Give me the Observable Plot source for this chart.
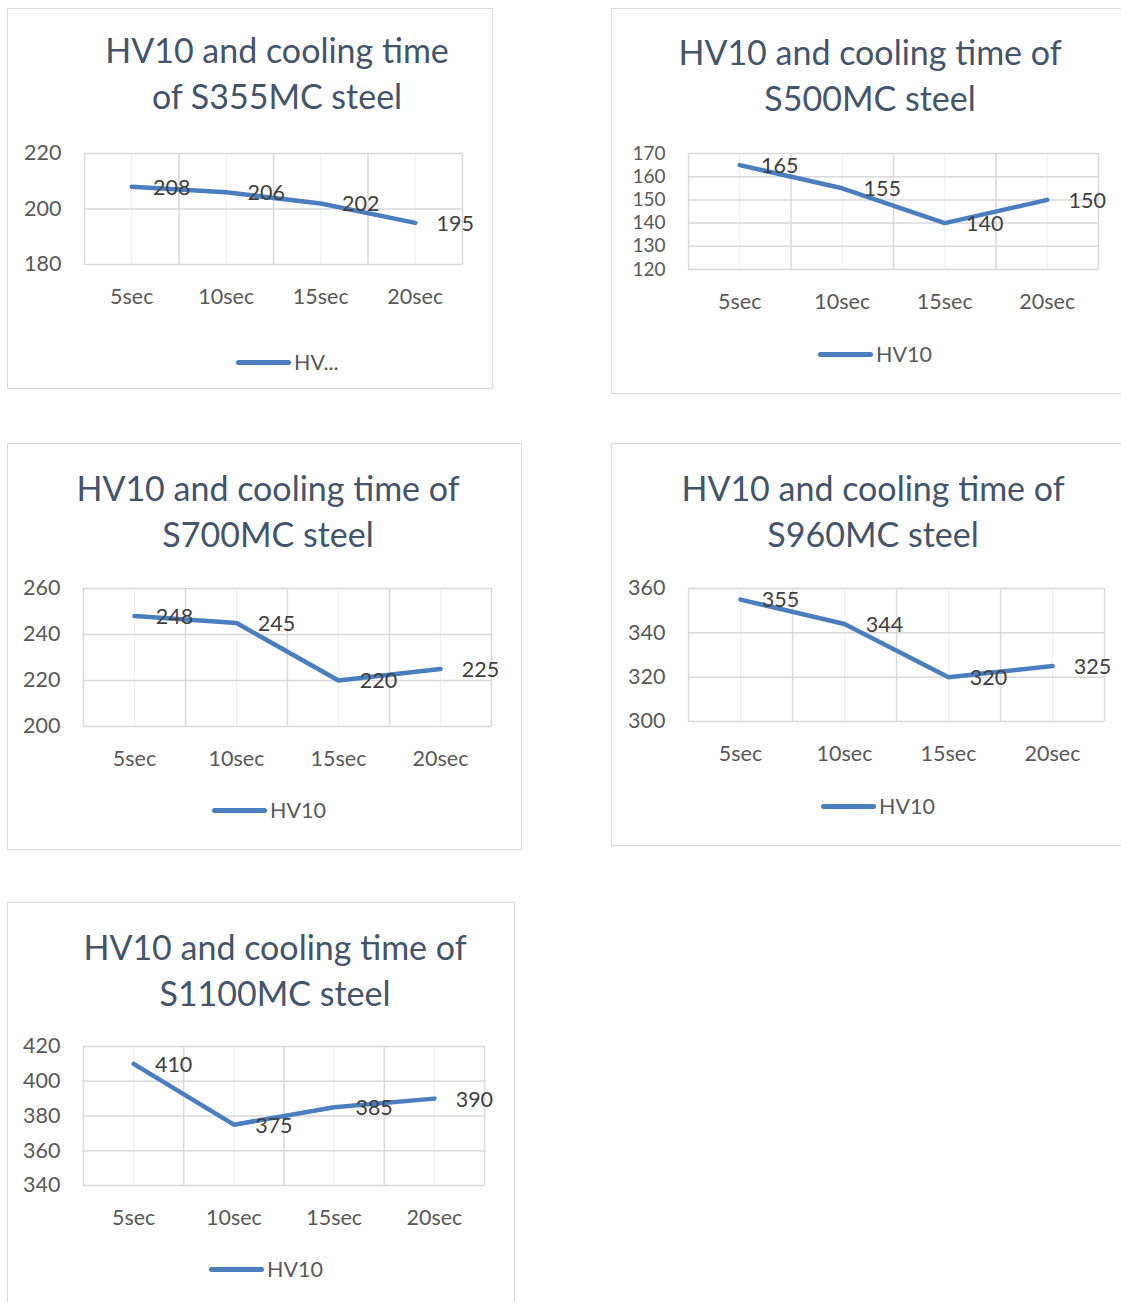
<!DOCTYPE html>
<html>
<head>
<meta charset="utf-8">
<script src="https://cdn.jsdelivr.net/npm/d3@7"></script>
<script src="https://cdn.jsdelivr.net/npm/@observablehq/plot@0.6"></script>
<style>
  html, body { margin: 0; padding: 0; background: #ffffff; }
  #page { position: relative; width: 1121px; height: 1302px; overflow: hidden; background: #fff; font-family: Lato, "Open Sans", sans-serif; }
  .box { position: absolute; border: 1.5px solid #d9d9d9; box-sizing: border-box; background: #fff; }
  .title { position: absolute; width: 600px; text-align: center; color: #44546a; font-size: 34px; line-height: 46px; white-space: nowrap; }
  .legend { position: absolute; display: flex; align-items: center; color: #595959; font-size: 21.5px; white-space: nowrap; }
  .legend .swatch { width: 55px; height: 5px; border-radius: 3px; background: #4a7ebf; margin-right: 3px; }
  .plot { position: absolute; }
</style>
</head>
<body>
<div id="page"></div>
<script>
// ---------- data ----------
const categories = ["5sec", "10sec", "15sec", "20sec"];
const seriesName = "HV10";
const steels = ["S355MC", "S500MC", "S700MC", "S960MC", "S1100MC"];
const hvS355 = [208, 206, 202, 195];
const hvS500 = [165, 155, 140, 150];
const hvS700 = [248, 245, 220, 225];
const hvS960 = [355, 344, 320, 325];
const hvS1100 = [410, 375, 385, 390];
const yTicksS355 = [180, 200, 220];
const yTicksS500 = [120, 130, 140, 150, 160, 170];
const yTicksS700 = [200, 220, 240, 260];
const yTicksS960 = [300, 320, 340, 360];
const yTicksS1100 = [340, 360, 380, 400, 420];
const titleLines = [
  ["HV10 and cooling time", "of S355MC steel"],
  ["HV10 and cooling time of", "S500MC steel"],
  ["HV10 and cooling time of", "S700MC steel"],
  ["HV10 and cooling time of", "S960MC steel"],
  ["HV10 and cooling time of", "S1100MC steel"]
];
const legendLabels = ["HV...", "HV10", "HV10", "HV10", "HV10"];

const values = [hvS355, hvS500, hvS700, hvS960, hvS1100];
const yTicks = [yTicksS355, yTicksS500, yTicksS700, yTicksS960, yTicksS1100];

// ---------- layout (page pixels) ----------
const layout = [
  {box: [7, 8, 486, 381], titleX: 277, titleY: 50, plot: [84, 462, 153, 264], legend: [236, 362], yFont: 21.5},
  {box: [611, 8, 530, 386], titleX: 870, titleY: 52, plot: [688, 1098, 153, 269], legend: [818, 354], yFont: 19},
  {box: [7, 443, 515, 407], titleX: 268, titleY: 488, plot: [83, 491, 588, 726], legend: [212, 810], yFont: 21.5},
  {box: [611, 443, 530, 403], titleX: 873, titleY: 488, plot: [688, 1104, 588, 721], legend: [821, 806], yFont: 21.5},
  {box: [7, 902, 508, 420], titleX: 275, titleY: 947, plot: [83, 484, 1046, 1185], legend: [209, 1269], yFont: 21.5}
];

const page = document.getElementById("page");
const fs = 21.5;

steels.forEach((steel, k) => {
  const L = layout[k];
  const [bl, bt, bw, bh] = L.box;
  const box = document.createElement("div");
  box.className = "box";
  Object.assign(box.style, {left: bl + "px", top: bt + "px", width: bw + "px", height: bh + "px"});
  page.appendChild(box);

  const title = document.createElement("div");
  title.className = "title";
  title.style.left = (L.titleX - 300) + "px";
  title.style.top = (L.titleY - 23) + "px";
  title.innerHTML = titleLines[k].map(s => `<div>${s}</div>`).join("");
  page.appendChild(title);

  const data = categories.map((c, i) => ({i, c, v: values[k][i]}));
  const ticks = yTicks[k];
  const [x0, x1, y0, y1] = L.plot;
  const ml = 80, mr = 60, mt = 20, mb = 50;

  const chart = Plot.plot({
    width: (x1 - x0) + ml + mr,
    height: (y1 - y0) + mt + mb,
    marginLeft: ml, marginRight: mr, marginTop: mt, marginBottom: mb,
    style: {fontFamily: "Lato, 'Open Sans', sans-serif", fontSize: fs + "px", background: "transparent", overflow: "visible"},
    x: {domain: [-0.5, categories.length - 0.5]},
    y: {domain: [ticks[0], ticks[ticks.length - 1]]},
    marks: [
      Plot.ruleX(d3.range(categories.length), {stroke: "#efefef", strokeWidth: 1.2}),
      Plot.ruleX(d3.range(categories.length + 1).map(j => j - 0.5), {stroke: "#d9d9d9", strokeWidth: 1.5}),
      Plot.gridY({ticks, stroke: "#d9d9d9", strokeOpacity: 1, strokeWidth: 1.5}),
      Plot.axisY({ticks, tickSize: 0, tickPadding: 23, label: null, fill: "#595959", fontSize: L.yFont}),
      Plot.axisX({ticks: d3.range(categories.length), tickFormat: i => categories[i], tickSize: 0, tickPadding: 24, label: null, fill: "#595959"}),
      Plot.line(data, {x: "i", y: "v", stroke: "#4a7ebf", strokeWidth: 4.5, strokeLinecap: "round", strokeLinejoin: "round"}),
      Plot.text(data, {x: "i", y: "v", text: d => String(d.v), dx: 40, dy: 1, fill: "#404040"})
    ]
  });
  chart.classList.add("plot");
  chart.style.left = (x0 - ml) + "px";
  chart.style.top = (y0 - mt) + "px";
  page.appendChild(chart);

  const leg = document.createElement("div");
  leg.className = "legend";
  leg.style.left = L.legend[0] + "px";
  leg.style.top = (L.legend[1] - 14) + "px";
  leg.style.height = "28px";
  leg.innerHTML = `<div class="swatch"></div><span>${legendLabels[k]}</span>`;
  page.appendChild(leg);
});
</script>
</body>
</html>
